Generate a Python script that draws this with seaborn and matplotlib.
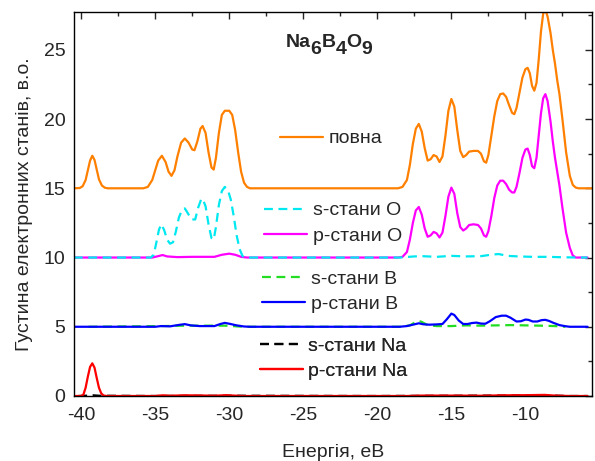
import matplotlib
matplotlib.use("Agg")
import matplotlib.pyplot as plt
from matplotlib.ticker import MultipleLocator
import seaborn as sns
import pandas as pd

# energies (eV) and DOS values (without vertical offset)
e_total = [-40.5, -40.1, -39.9, -39.7, -39.55, -39.4, -39.25, -39.1, -38.95, -38.8, -38.6, -38.4, -38.2,
           -35.8, -35.5, -35.2, -35.0, -34.8, -34.55, -34.3, -34.1, -33.9, -33.7, -33.5, -33.25, -33.0,
           -32.75, -32.5, -32.35, -32.15, -31.95, -31.8, -31.6, -31.4, -31.2, -31.05, -30.9, -30.7,
           -30.5, -30.3, -30.0, -29.8, -29.6, -29.4, -29.2, -29.0, -28.8, -28.6,
           -18.6, -18.3, -18.0, -17.8, -17.6, -17.4, -17.2, -17.0, -16.8, -16.6, -16.4, -16.2, -16.0,
           -15.8, -15.6, -15.4, -15.2, -15.0, -14.8, -14.6, -14.4, -14.2, -14.0, -13.8, -13.5, -13.2,
           -13.0, -12.8, -12.65, -12.5, -12.3, -12.1, -11.9, -11.7, -11.5, -11.3, -11.1, -10.9, -10.75,
           -10.6, -10.4, -10.2, -10.0, -9.85, -9.7, -9.55, -9.4, -9.25, -9.1, -8.95, -8.8, -8.65, -8.5,
           -8.3, -8.15, -8.0, -7.85, -7.7, -7.5, -7.25, -7.0, -6.8, -6.6, -6.4, -5.5]
dos_total = [0, 0.02, 0.15, 0.6, 1.3, 2.0, 2.35, 2.05, 1.35, 0.65, 0.2, 0.04, 0,
             0, 0.1, 0.6, 1.3, 2.0, 2.35, 1.9, 1.2, 0.9, 1.3, 2.3, 3.3, 3.6,
             3.3, 2.8, 2.75, 3.4, 4.3, 4.5, 4.0, 2.6, 1.5, 1.35, 2.2, 4.0,
             5.3, 5.6, 5.6, 5.3, 4.2, 2.6, 1.2, 0.4, 0.1, 0,
             0, 0.1, 0.6, 1.7, 3.2, 4.3, 4.65, 4.1, 2.9, 2.0, 2.1, 2.4, 2.3,
             1.9, 2.3, 3.8, 5.6, 6.45, 5.9, 4.2, 2.7, 2.25, 2.4, 2.65, 2.7, 2.7,
             2.5, 1.95, 1.85, 2.4, 3.8, 5.2, 6.3, 6.8, 6.85, 6.6, 6.0, 5.45, 5.35,
             5.8, 6.9, 8.0, 8.6, 8.7, 8.3, 7.4, 7.05, 7.6, 9.3, 11.3, 12.6, 12.9, 12.4,
             11.2, 10.0, 9.0, 7.8, 6.8, 5.0, 2.6, 0.9, 0.25, 0.05, 0, 0]

e_s_o = [-40.5, -35.3, -35.1, -34.9, -34.75, -34.6, -34.4, -34.2, -34.0, -33.8, -33.6, -33.4, -33.2,
         -33.0, -32.8, -32.55, -32.3, -32.1, -31.9, -31.8, -31.6, -31.4, -31.2, -31.05, -30.9, -30.7,
         -30.5, -30.3, -30.1, -29.9, -29.7, -29.5, -29.3, -29.1, -28.9,
         -18.5, -17.5, -17.0, -16.0, -15.0, -14.0, -13.0, -12.2, -11.8, -11.2, -10.5, -9.5, -8.5,
         -7.5, -6.5, -5.8]
dos_s_o = [0, 0, 0.2, 1.2, 2.0, 2.4, 2.0, 1.3, 1.0, 1.1, 1.9, 2.9, 3.4,
           3.55, 3.2, 2.75, 2.75, 3.6, 4.2, 4.25, 3.7, 2.4, 1.4, 1.3, 2.2, 3.8,
           4.8, 5.1, 4.9, 4.2, 3.0, 1.6, 0.6, 0.1, 0,
           0, 0.08, 0.1, 0.05, 0.12, 0.08, 0.1, 0.22, 0.25, 0.12, 0.08, 0.05, 0.05,
           0.02, 0, 0]

e_p_o = [-40.5, -35.2, -34.8, -34.5, -34.2, -33.5, -32.5, -31.0, -30.5, -30.0, -29.6, -29.2, -28.8,
         -18.6, -18.3, -18.0, -17.8, -17.6, -17.4, -17.2, -17.0, -16.8, -16.6, -16.4, -16.2, -16.0,
         -15.8, -15.6, -15.4, -15.2, -15.0, -14.8, -14.6, -14.4, -14.2, -14.0, -13.8, -13.5, -13.2,
         -13.0, -12.8, -12.65, -12.5, -12.3, -12.1, -11.9, -11.7, -11.5, -11.3, -11.1, -10.9, -10.75,
         -10.6, -10.4, -10.2, -10.0, -9.85, -9.7, -9.55, -9.4, -9.25, -9.1, -8.95, -8.8, -8.65, -8.5,
         -8.3, -8.15, -8.0, -7.85, -7.7, -7.5, -7.25, -7.0, -6.8, -6.6, -5.8]
dos_p_o = [0, 0, 0.1, 0.18, 0.08, 0.03, 0.05, 0.05, 0.2, 0.28, 0.2, 0.05, 0,
           0, 0.05, 0.4, 1.3, 2.5, 3.4, 3.65, 3.1, 2.1, 1.5, 1.6, 1.85, 1.75,
           1.45, 1.8, 3.0, 4.4, 5.05, 4.6, 3.2, 2.2, 1.95, 2.1, 2.35, 2.4, 2.35,
           2.1, 1.6, 1.5, 1.9, 3.0, 4.3, 5.2, 5.55, 5.55, 5.3, 4.9, 4.7, 4.7,
           5.1, 6.1, 7.2, 7.8, 7.87, 7.4, 6.6, 6.45, 7.2, 8.8, 10.4, 11.5, 11.8, 11.3,
           9.8, 8.4, 7.2, 6.2, 5.2, 3.6, 1.8, 0.7, 0.15, 0, 0]

e_s_b = [-39.5, -34.5, -33.0, -30.3, -29.0, -18.5, -17.8, -17.4, -17.2, -17.0, -16.6, -16.0, -15.0,
         -14.0, -13.0, -12.0, -11.0, -10.0, -9.0, -8.0, -7.3]
dos_s_b = [0, 0.05, 0.08, 0.08, 0, 0, 0.1, 0.35, 0.42, 0.35, 0.12, 0.05, 0.05,
           0.1, 0.08, 0.1, 0.12, 0.1, 0.08, 0.05, 0]

e_p_b = [-40.5, -35.0, -34.6, -34.0, -33.3, -33.0, -32.6, -32.0, -31.0, -30.6, -30.3, -30.0, -29.5,
         -29.0, -28.6, -18.5, -18.0, -17.6, -17.2, -16.9, -16.5, -16.0, -15.6, -15.3, -15.0, -14.8,
         -14.5, -14.2, -13.9, -13.6, -13.3, -13.0, -12.7, -12.4, -12.0, -11.6, -11.3, -11.0, -10.6,
         -10.3, -10.0, -9.8, -9.5, -9.2, -8.9, -8.65, -8.4, -8.1, -7.7, -7.3, -7.0, -5.8]
dos_p_b = [0, 0, 0.05, 0.03, 0.15, 0.19, 0.1, 0.05, 0.05, 0.2, 0.28, 0.22, 0.1,
           0.02, 0, 0, 0.05, 0.15, 0.25, 0.18, 0.15, 0.17, 0.2, 0.55, 0.95, 0.85,
           0.45, 0.2, 0.2, 0.27, 0.3, 0.23, 0.22, 0.4, 0.7, 0.8, 0.8, 0.65, 0.38,
           0.4, 0.52, 0.5, 0.38, 0.38, 0.48, 0.5, 0.42, 0.28, 0.12, 0.04, 0, 0]

e_s_na = [-40.2, -39.5, -39.2, -38.8, -35.0, -30.0, -20.0, -15.0, -12.0, -9.0, -7.0, -5.8]
dos_s_na = [0, 0.03, 0.05, 0.02, 0, 0.02, 0, 0.02, 0.03, 0.05, 0, 0]

e_p_na = [-40.5, -40.0, -39.85, -39.7, -39.55, -39.4, -39.25, -39.1, -38.95, -38.8, -38.65, -38.5,
          -38.3, -35.0, -34.5, -34.0, -33.0, -32.0, -31.0, -30.2, -29.5, -29.0, -18.0, -17.0, -15.0,
          -13.0, -11.5, -10.0, -8.7, -8.0, -7.0, -5.8]
dos_p_na = [0, 0, 0.1, 0.6, 1.4, 2.1, 2.36, 2.05, 1.3, 0.6, 0.2, 0.04,
            0, 0, 0.05, 0.02, 0.05, 0.04, 0.02, 0.06, 0.02, 0, 0, 0.03, 0.03,
            0.02, 0.05, 0.06, 0.08, 0.03, 0, 0]

# (energies, values, vertical offset, label, colour, dashed) in drawing order
series = [
    (e_total, dos_total, 15, "повна", "#ff8000", False),
    (e_p_o, dos_p_o, 10, "p-стани O", "#ff00ff", False),
    (e_s_o, dos_s_o, 10, "s-стани O", "#00e8f0", True),
    (e_s_b, dos_s_b, 5, "s-стани B", "#22dd22", True),
    (e_p_b, dos_p_b, 5, "p-стани B", "#0000ff", False),
    (e_s_na, dos_s_na, 0, "s-стани Na", "#000000", True),
    (e_p_na, dos_p_na, 0, "p-стани Na", "#ff0000", False),
]

title_parts = [("Na", False), ("6", True), ("B", False), ("4", True), ("O", False), ("9", True)]

sns.set_style("white")
plt.rcParams["font.family"] = ["Liberation Sans", "DejaVu Sans"]
plt.rcParams["axes.unicode_minus"] = False

fig = plt.figure(figsize=(5.95, 4.61), dpi=100)
ax = fig.add_axes([0.124, 0.141, 0.871, 0.832])

lines = {}
for e, v, off, label, color, dashed in series:
    df = pd.DataFrame({"E": e, "DOS": [x + off for x in v]})
    ls = (0, (4, 2.5)) if dashed else "-"
    sns.lineplot(data=df, x="E", y="DOS", ax=ax, color=color, linewidth=1.6,
                 linestyle=ls, sort=False, legend=False)
    lines[label] = ax.get_lines()[-1]

ax.set_xlim(-40.5, -5.5)
ax.set_ylim(0, 27.7)
ax.xaxis.set_major_locator(MultipleLocator(5))
ax.xaxis.set_minor_locator(MultipleLocator(2.5))
ax.yaxis.set_major_locator(MultipleLocator(5))
ax.yaxis.set_minor_locator(MultipleLocator(2.5))
ax.tick_params(which="both", direction="in", top=True, right=True, labelsize=14, width=1, pad=6)
ax.tick_params(axis="x", which="both", pad=8)
ax.tick_params(which="major", length=5)
ax.tick_params(which="minor", length=3)
for sp in ax.spines.values():
    sp.set_linewidth(1.0)
    sp.set_color("black")

ax.set_xlabel("Енергія, еВ", fontsize=14, labelpad=14)
ax.set_ylabel("Густина електронних станів, в.о.", fontsize=14, labelpad=8)

# formula label with full-size subscripts
prev = ax.text(0.409, 0.909, title_parts[0][0], transform=ax.transAxes, ha="left",
               va="baseline", fontsize=14, fontweight="bold")
was_sub = False
for txt, sub in title_parts[1:]:
    dy = -5 if (sub and not was_sub) else (5 if (was_sub and not sub) else 0)
    prev = ax.annotate(txt, xy=(1, 0), xycoords=prev, xytext=(0, dy), textcoords="offset points",
                       ha="left", va="bottom", fontsize=14, fontweight="bold")
    was_sub = sub

groups = [
    (["повна"], (0.398, 0.671)),
    (["s-стани O", "p-стани O"], (0.367, 0.4505)),
    (["s-стани B", "p-стани B"], (0.363, 0.2727)),
    (["s-стани Na", "p-стани Na"], (0.359, 0.098)),
]
for labels, anchor in groups:
    leg = ax.legend([lines[l] for l in labels], labels, loc="center left",
                    bbox_to_anchor=anchor, frameon=False, fontsize=14,
                    handlelength=2.2, handletextpad=0.3, labelspacing=0.4,
                    borderpad=0, borderaxespad=0)
    ax.add_artist(leg)

fig.savefig("out.png", dpi=100)
